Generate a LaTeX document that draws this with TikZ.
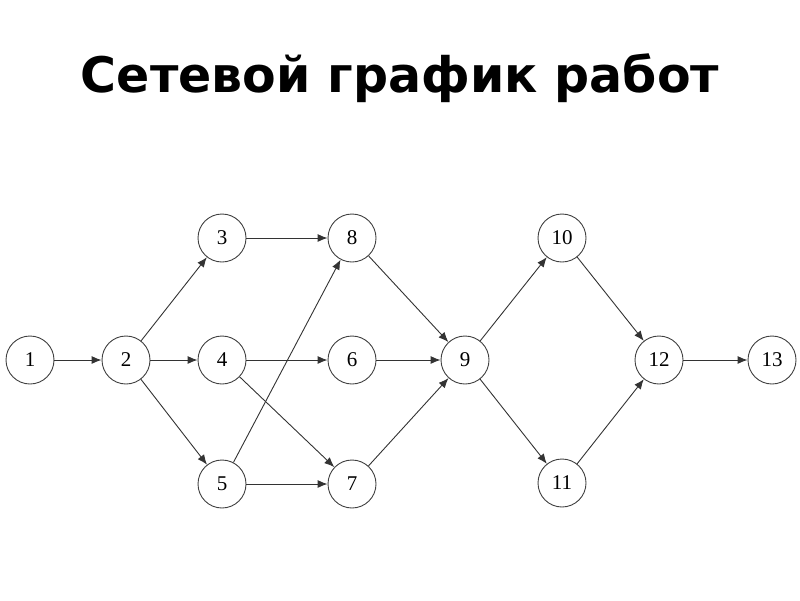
\documentclass[tikz,border=0pt]{standalone}
\usepackage{fontspec}
\setmainfont{Liberation Serif}
\newfontfamily\titlefont{DejaVu Sans}
\usetikzlibrary{arrows.meta}
\begin{document}
\begin{tikzpicture}[x=1pt,y=-1pt,
  ev/.style={draw=black!75, line width=0.9pt, circle, minimum size=48pt, inner sep=0pt, font=\fontsize{21}{21}\selectfont},
  arr/.style={draw=black!80, line width=0.9pt, -{Latex[length=10pt,width=8pt]}}]
\useasboundingbox (0,0) rectangle (800,600);
\node[font=\titlefont\bfseries\fontsize{49}{49}\selectfont] (title) at (400,78) {Сетевой график работ};
\node[ev] (n1) at (30,360) {1};
\node[ev] (n2) at (126,360) {2};
\node[ev] (n3) at (222,238) {3};
\node[ev] (n4) at (222,360) {4};
\node[ev] (n5) at (222,484) {5};
\node[ev] (n8) at (352,238) {8};
\node[ev] (n6) at (352,360) {6};
\node[ev] (n7) at (352,484) {7};
\node[ev] (n9) at (465,360) {9};
\node[ev] (n10) at (562,238) {10};
\node[ev] (n11) at (562,483) {11};
\node[ev] (n12) at (659,360) {12};
\node[ev] (n13) at (772,360) {13};
\draw[arr] (n1) -- (n2);
\draw[arr] (n2) -- (n3);
\draw[arr] (n2) -- (n4);
\draw[arr] (n2) -- (n5);
\draw[arr] (n3) -- (n8);
\draw[arr] (n4) -- (n6);
\draw[arr] (n4) -- (n7);
\draw[arr] (n5) -- (n8);
\draw[arr] (n5) -- (n7);
\draw[arr] (n8) -- (n9);
\draw[arr] (n6) -- (n9);
\draw[arr] (n7) -- (n9);
\draw[arr] (n9) -- (n10);
\draw[arr] (n9) -- (n11);
\draw[arr] (n10) -- (n12);
\draw[arr] (n11) -- (n12);
\draw[arr] (n12) -- (n13);
\end{tikzpicture}
\end{document}
